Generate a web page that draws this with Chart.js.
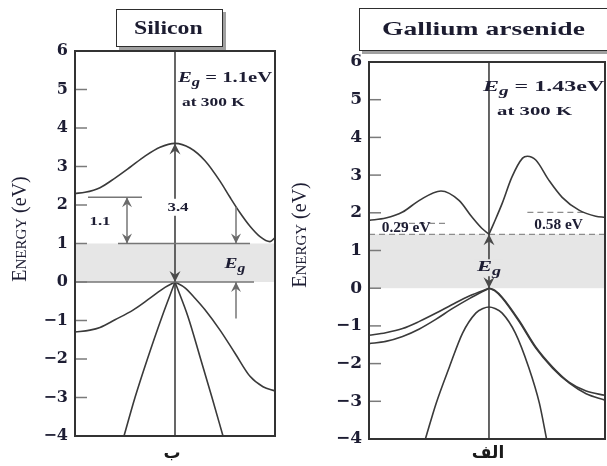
<!DOCTYPE html>
<html><head><meta charset="utf-8">
<script src="https://cdn.jsdelivr.net/npm/chart.js@4/dist/chart.umd.min.js"></script>
<style>
html,body{margin:0;padding:0;background:#fff;width:607px;height:466px;overflow:hidden;position:relative;}
.cw{position:absolute;top:0;}
.tbox{position:absolute;border:1.5px solid #2e2e2e;background:#fff;box-shadow:3px 3px 0 #a0a0a0;font-family:"Liberation Serif",serif;font-weight:bold;color:#1c1c30;box-sizing:border-box;white-space:nowrap;}
.tbox span{position:absolute;display:inline-block;transform-origin:left center;}
.blab{position:absolute;font-family:"DejaVu Sans",sans-serif;font-weight:bold;font-size:17px;color:#1a1a1a;text-align:center;width:60px;}
</style></head>
<body>
<div class="cw" style="left:0;width:285px;height:466px;"><canvas id="c1" width="285" height="466"></canvas></div>
<div class="cw" style="left:280px;width:327px;height:466px;"><canvas id="c2" width="327" height="466"></canvas></div>
<div class="tbox" style="left:116px;top:9px;width:107px;height:38px;"><span style="left:17px;top:7px;font-size:19px;transform:scaleX(1.25);">Silicon</span></div>
<div class="tbox" style="left:359px;top:8px;width:262px;height:43px;"><span style="left:22px;top:10px;font-size:18.5px;transform:scaleX(1.49);">Gallium arsenide</span></div>
<div class="blab" style="left:142px;top:442px;">ب</div>
<div class="blab" style="left:458px;top:442px;">الف</div>
<script>
// ---------- data (k across the zone, energy in eV) ----------
const yTickValues = [-4,-3,-2,-1,0,1,2,3,4,5,6];
const yTickLabels = ['−4','−3','−2','−1','0','1','2','3','4','5','6'];

// Silicon
const siCondK = [-1,-0.9,-0.75,-0.6,-0.45,-0.3,-0.15,0,0.15,0.3,0.45,0.55,0.65,0.75,0.85,0.95,1];
const siCondE = [2.3,2.33,2.45,2.7,2.98,3.27,3.5,3.6,3.48,3.15,2.62,2.2,1.8,1.45,1.18,1.05,1.15];
const siHeavyLK = [-1,-0.85,-0.75,-0.6,-0.42,-0.25,-0.1,0];
const siHeavyLE = [-1.3,-1.25,-1.18,-0.98,-0.73,-0.42,-0.14,0];
const siHeavyRK = [0,0.1,0.2,0.3,0.45,0.6,0.75,0.88,1];
const siHeavyRE = [0,-0.15,-0.42,-0.72,-1.25,-1.85,-2.45,-2.72,-2.83];
const siLightLK = [0,-0.13,-0.28,-0.4,-0.51];
const siLightLE = [0,-0.9,-2.03,-3.0,-4];
const siLightRK = [0,0.13,0.26,0.37,0.48];
const siLightRE = [0,-0.9,-2.03,-3.0,-4];
const siGap = [0, 1.0];

// Gallium arsenide
const gaCondLK = [-1,-0.86,-0.72,-0.58,-0.4,-0.25,-0.14,-0.06,0];
const gaCondLE = [1.8,1.86,2.02,2.33,2.58,2.33,1.88,1.59,1.43];
const gaCondRK = [0,0.04,0.11,0.19,0.28,0.32,0.39,0.5,0.61,0.75,0.89,0.967];
const gaCondRE = [1.43,1.72,2.25,2.94,3.45,3.5,3.4,2.86,2.41,2.07,1.91,1.88];
const gaVLK = [-1,-0.86,-0.72,-0.58,-0.44,-0.31,-0.16,0];
const gaV1LE = [-1.25,-1.18,-1.07,-0.88,-0.66,-0.44,-0.2,0];
const gaV2LE = [-1.47,-1.41,-1.28,-1.08,-0.82,-0.55,-0.27,0];
const gaVRK = [0,0.05,0.11,0.25,0.39,0.53,0.67,0.81,0.967];
const gaV1RE = [0,-0.06,-0.24,-0.85,-1.56,-2.09,-2.5,-2.73,-2.84];
const gaV2RE = [0,-0.07,-0.26,-0.88,-1.59,-2.12,-2.52,-2.8,-2.97];
const gaSoK = [-0.53,-0.44,-0.33,-0.22,-0.11,-0.05,0,0.05,0.11,0.22,0.33,0.42,0.48];
const gaSoE = [-4,-3.05,-2.09,-1.19,-0.66,-0.54,-0.5,-0.54,-0.66,-1.19,-2.09,-3.05,-4];
const gaGap = [0, 1.43];
const gaValley = [0.29, 0.58];

// ---------- helpers ----------
const zip = (ks, es) => ks.map((k, i) => ({x: k, y: es[i]}));
const curve = (ks, es) => ({data: zip(ks, es), borderColor: '#3a3a3a', borderWidth: 1.6, pointRadius: 0, cubicInterpolationMode: 'monotone', fill: false});
const SERIF = '"Liberation Serif", serif';

function seg(ctx, x1, y1, x2, y2) { ctx.beginPath(); ctx.moveTo(x1, y1); ctx.lineTo(x2, y2); ctx.stroke(); }
function head(ctx, x, y, dir, s) { // dir -1: points up, +1: points down
  ctx.beginPath(); ctx.moveTo(x, y);
  ctx.lineTo(x - s * 0.5, y - dir * s);
  ctx.lineTo(x, y - dir * s * 0.65);
  ctx.lineTo(x + s * 0.5, y - dir * s);
  ctx.closePath(); ctx.fill();
}
function richText(ctx, parts, x, y, align, hs, bg) {
  ctx.save();
  let w = 0;
  parts.forEach(p => { ctx.font = p.f; p.w = ctx.measureText(p.t).width; w += p.w; });
  ctx.translate(x, y); ctx.scale(hs, 1);
  let x0 = align === 'center' ? -w / 2 : 0;
  if (bg) { ctx.fillStyle = bg; ctx.fillRect(x0 - 2, -12, w + 4, 17); }
  ctx.fillStyle = '#1d1d33'; ctx.textBaseline = 'alphabetic';
  parts.forEach(p => { ctx.font = p.f; ctx.fillText(p.t, x0, (p.dy || 0)); x0 += p.w; });
  ctx.restore();
}
function egParts(sz, rest) {
  const a = [{t: 'E', f: `italic bold ${sz}px ${SERIF}`}, {t: 'g', f: `italic bold ${Math.round(sz * 0.8)}px ${SERIF}`, dy: 4}];
  if (rest) a.push({t: rest, f: `bold ${sz}px ${SERIF}`});
  return a;
}

function makePlugin(ann) {
  return {
    id: 'bandDecor',
    beforeDatasetsDraw(chart) {
      const {ctx, chartArea: a, scales: {x, y}} = chart;
      ctx.save();
      const yt = y.getPixelForValue(ann.band[1]), yb = y.getPixelForValue(ann.band[0]);
      ctx.fillStyle = '#e6e6e6';
      ctx.fillRect(a.left, yt, a.right - a.left, yb - yt);
      ctx.strokeStyle = '#8c8c8c'; ctx.lineWidth = 1.2; ctx.setLineDash([6, 4]);
      ann.dashed.forEach(([k1, k2, e]) => seg(ctx, x.getPixelForValue(k1), y.getPixelForValue(e), x.getPixelForValue(k2), y.getPixelForValue(e)));
      ctx.setLineDash([]);
      ctx.strokeStyle = '#404040'; ctx.lineWidth = 1.6;
      seg(ctx, x.getPixelForValue(0), a.top, x.getPixelForValue(0), a.bottom);
      ctx.restore();
    },
    afterDatasetsDraw(chart) {
      const {ctx, chartArea: a, scales: {x, y}} = chart;
      ctx.save();
      ctx.strokeStyle = '#767676'; ctx.fillStyle = '#6a6a6a'; ctx.lineWidth = 1.5;
      ann.hlines.forEach(([k1, k2, e]) => seg(ctx, x.getPixelForValue(k1), y.getPixelForValue(e), x.getPixelForValue(k2), y.getPixelForValue(e)));
      ann.arrows.forEach(([k, e1, e2, both]) => {
        const px = x.getPixelForValue(k), p1 = y.getPixelForValue(e1), p2 = y.getPixelForValue(e2);
        seg(ctx, px, p1, px, p2);
        const d = p2 > p1 ? 1 : -1;
        head(ctx, px, p2, d, 10);
        if (both) head(ctx, px, p1, -d, 10);
      });
      ctx.fillStyle = '#4a4a4a';
      ann.heads.forEach(([k, e, d]) => head(ctx, x.getPixelForValue(k), y.getPixelForValue(e), d, 11));
      ann.texts.forEach(t => richText(ctx, t.parts, x.getPixelForValue(t.k), y.getPixelForValue(t.e), t.align, t.hs, t.bg));
      ctx.strokeStyle = '#7a7a7a'; ctx.lineWidth = 1.5;
      y.ticks.forEach(tk => { if (tk.value > y.min && tk.value < y.max) { const py = y.getPixelForValue(tk.value); seg(ctx, a.left, py, a.left + 12, py); } });
      ctx.strokeStyle = '#333'; ctx.lineWidth = 2;
      ctx.strokeRect(a.left, a.top, a.right - a.left, a.bottom - a.top);
      ctx.restore();
    },
    afterDraw(chart) {
      const ctx = chart.ctx;
      ctx.save();
      ctx.translate(ann.titleX, ann.titleY); ctx.rotate(-Math.PI / 2);
      const parts = [{t: 'E', f: `20px ${SERIF}`}, {t: 'NERGY', f: `15px ${SERIF}`}, {t: ' (eV)', f: `20px ${SERIF}`}];
      let w = 0; parts.forEach(p => { ctx.font = p.f; p.w = ctx.measureText(p.t).width; w += p.w; });
      let x0 = -w / 2; ctx.fillStyle = '#1d1d33'; ctx.textBaseline = 'alphabetic';
      parts.forEach(p => { ctx.font = p.f; ctx.fillText(p.t, x0, 6); x0 += p.w; });
      ctx.restore();
    }
  };
}

function makeChart(id, datasets, xMax, axisW, pad, tickSize, ann) {
  return new Chart(document.getElementById(id), {
    type: 'line',
    data: {datasets},
    options: {
      responsive: false, animation: false, events: [],
      layout: {padding: pad},
      plugins: {legend: {display: false}, tooltip: {enabled: false}},
      scales: {
        x: {type: 'linear', min: -1, max: xMax, display: false},
        y: {type: 'linear', min: -4, max: 6,
            afterFit(s) { s.width = axisW; },
            afterBuildTicks(s) { s.ticks = yTickValues.map(v => ({value: v})); },
            grid: {display: false, drawTicks: false}, border: {display: false},
            ticks: {padding: 7, color: '#1d1d33', font: {family: '"DejaVu Serif", serif', weight: 'bold', size: tickSize},
                    callback: v => yTickLabels[yTickValues.indexOf(v)]}}
      }
    },
    plugins: [makePlugin(ann)]
  });
}

// ---------- Silicon ----------
makeChart('c1', [
  curve(siCondK, siCondE), curve(siHeavyLK, siHeavyLE), curve(siHeavyRK, siHeavyRE),
  curve(siLightLK, siLightLE), curve(siLightRK, siLightRE)
], 1, 75, {left: 0, top: 51, right: 10, bottom: 30}, 16, {
  band: siGap,
  dashed: [],
  hlines: [[-0.87, -0.33, 2.2], [-0.57, 0.75, siGap[1]], [-1, 0.79, siGap[0]]],
  arrows: [[-0.48, siGap[1], 2.2, true], [0.61, 1.95, siGap[1], false], [0.61, -0.95, siGap[0], false]],
  heads: [[0, 3.6, -1], [0, 0, 1]],
  texts: [
    {parts: egParts(15, ' = 1.1eV'), k: 0.03, e: 5.2, align: 'left', hs: 1.38},
    {parts: [{t: 'at 300 K', f: `bold 13px ${SERIF}`}], k: 0.07, e: 4.57, align: 'left', hs: 1.34},
    {parts: [{t: '3.4', f: `bold 13px ${SERIF}`}], k: 0.03, e: 1.85, align: 'center', hs: 1.3, bg: '#ffffff'},
    {parts: [{t: '1.1', f: `bold 13px ${SERIF}`}], k: -0.75, e: 1.47, align: 'center', hs: 1.3},
    {parts: egParts(15), k: 0.6, e: 0.37, align: 'center', hs: 1.3}
  ],
  titleX: 20, titleY: 229
});

// ---------- Gallium arsenide ----------
makeChart('c2', [
  curve(gaCondLK, gaCondLE), curve(gaCondRK, gaCondRE),
  curve(gaVLK, gaV1LE), curve(gaVLK, gaV2LE), curve(gaVRK, gaV1RE), curve(gaVRK, gaV2RE),
  curve(gaSoK, gaSoE)
], 0.967, 89, {left: 0, top: 62, right: 2, bottom: 27}, 17, {
  band: gaGap,
  dashed: [[-1, 0.967, gaGap[1]], [-0.75, -0.35, gaGap[1] + gaValley[0]], [0.32, 0.82, gaGap[1] + gaValley[1]]],
  hlines: [],
  arrows: [],
  heads: [[0, gaGap[1], -1], [0, 0, 1]],
  texts: [
    {parts: egParts(15, ' = 1.43eV'), k: -0.05, e: 5.23, align: 'left', hs: 1.6},
    {parts: [{t: 'at 300 K', f: `bold 13px ${SERIF}`}], k: 0.067, e: 4.59, align: 'left', hs: 1.6},
    {parts: [{t: '0.29 eV', f: `bold 14px ${SERIF}`}], k: -0.69, e: 1.48, align: 'center', hs: 1.1},
    {parts: [{t: '0.58 eV', f: `bold 14px ${SERIF}`}], k: 0.58, e: 1.56, align: 'center', hs: 1.1},
    {parts: egParts(15), k: 0, e: 0.45, align: 'center', hs: 1.5, bg: '#e6e6e6'}
  ],
  titleX: 20, titleY: 235
});
</script>
</body></html>
